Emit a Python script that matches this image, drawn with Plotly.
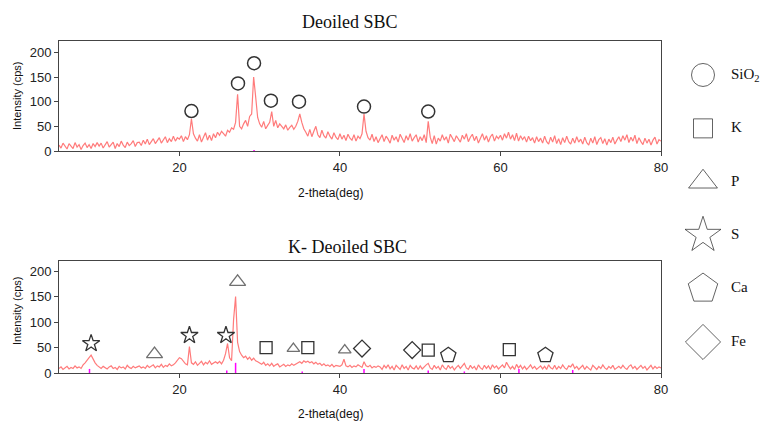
import numpy as np
import plotly.graph_objects as go

# ---------------- DATA ----------------
two_theta_start, two_theta_step = 5.0, 0.25

deoiled_counts = [
    12, 6, 16, 9, 4, 15, 10, 5, 17, 8, 13, 3, 11, 16, 7, 13, 5, 15, 9, 17,
    10, 16, 6, 14, 19, 8, 13, 18, 5, 15, 9, 20, 12, 7, 18, 11, 15, 21, 9, 17,
    18, 11, 22, 14, 24, 13, 19, 25, 15, 22, 27, 16, 23, 29, 17, 25, 19, 30, 20, 27,
    24, 31, 19, 29, 23, 33, 65, 35, 26, 20, 33, 18, 28, 37, 22, 32, 21, 35, 27, 38,
    32, 40, 35, 30, 42, 38, 47, 44, 58, 115, 50, 45, 55, 62, 50, 70, 75, 150, 110, 68,
    55, 48, 60, 45, 52, 58, 80, 50, 62, 47, 55, 50, 45, 53, 42, 48, 52, 44, 50, 60,
    75, 58, 45, 38, 30, 44, 29, 40, 50, 33, 27, 42, 31, 26, 39, 30, 24, 37, 28, 23,
    35, 24, 32, 21, 34, 26, 22, 33, 20, 30, 25, 35, 75, 40, 27, 22, 34, 19, 29, 17,
    27, 33, 19, 30, 24, 16, 32, 22, 29, 18, 34, 25, 17, 31, 22, 35, 20, 27, 33, 18,
    29, 21, 33, 17, 60, 28, 15, 31, 14, 26, 20, 33, 22, 29, 16, 34, 25, 19, 31, 23,
    18, 32, 24, 35, 19, 28, 34, 21, 30, 16, 27, 35, 22, 31, 18, 29, 34, 20, 30, 25,
    32, 22, 35, 26, 38, 24, 33, 21, 36, 20, 31, 23, 29, 18, 30, 21, 27, 16, 29, 19,
    26, 16, 30, 19, 14, 28, 18, 31, 15, 25, 13, 27, 17, 30, 19, 14, 26, 16, 29, 18,
    24, 14, 28, 17, 12, 26, 16, 29, 13, 23, 27, 15, 25, 12, 24, 17, 28, 14, 22, 29,
    19, 31, 22, 33, 17, 28, 20, 32, 15, 27, 19, 13, 26, 16, 24, 12, 22, 28, 14, 23,
    20,
]

k_deoiled_counts = [
    9, 12, 7, 10, 13, 8, 11, 9, 14, 10, 12, 9, 16, 20, 24, 30, 35, 27, 20, 15,
    12, 9, 13, 10, 8, 12, 14, 9, 11, 7, 13, 10, 12, 8, 15, 11, 9, 13, 10, 12,
    14, 10, 12, 9, 15, 11, 13, 16, 10, 14, 12, 17, 11, 15, 13, 18, 14, 16, 20, 25,
    30, 28, 22, 18, 16, 52, 20, 17, 22, 15, 19, 23, 16, 21, 18, 24, 17, 20, 22, 19,
    23, 18, 25, 38, 58, 30, 24, 105, 150, 60, 42, 35, 30, 33, 27, 31, 25, 29, 24, 22,
    20, 17, 21, 15, 18, 14, 19, 13, 16, 18, 12, 15, 17, 13, 16, 14, 18, 15, 17, 20,
    22, 19, 24, 21, 23, 20, 22, 18, 21, 17, 19, 15, 18, 14, 16, 13, 17, 12, 15, 14,
    13, 16, 27, 14, 12, 15, 11, 14, 12, 16, 13, 11, 22, 14, 12, 15, 10, 13, 11, 14,
    12, 7, 15, 10, 16, 8, 13, 6, 15, 10, 7, 16, 9, 13, 6, 15, 10, 8, 14, 7,
    14, 8, 13, 16, 19, 10, 7, 15, 9, 13, 6, 16, 10, 7, 15, 9, 13, 6, 11, 15,
    9, 15, 19, 10, 7, 15, 9, 13, 6, 16, 10, 7, 15, 9, 14, 7, 16, 10, 14, 8,
    13, 16, 10, 21, 14, 8, 13, 7, 17, 10, 15, 8, 13, 7, 11, 16, 9, 13, 7, 11,
    14, 8, 13, 7, 16, 10, 8, 15, 7, 13, 9, 16, 10, 7, 14, 12, 18, 9, 13, 7,
    11, 15, 7, 13, 9, 6, 15, 10, 7, 13, 9, 16, 10, 7, 13, 9, 15, 7, 11, 13,
    9, 15, 10, 7, 13, 16, 9, 13, 7, 11, 15, 9, 13, 6, 11, 15, 8, 13, 9, 12,
    10,
]

# reference (stick) lines
top_ref_x = [29.3]
top_ref_h = [2]
bot_ref_x = [8.8, 25.9, 27.0, 35.3, 43.0, 51.0, 55.5, 62.3, 69.0]
bot_ref_h = [8, 5, 20, 3, 8, 5, 3, 8, 6]

# phase identification markers
sio2_x = [21.5, 27.3, 29.3, 31.4, 34.9, 43.0, 51.0]
sio2_y = [81, 137, 178, 102, 100, 90, 80]

s_x = [9.0, 21.25, 25.8]
s_y = [58, 74, 74]
p_x = [16.9, 27.25, 34.2, 40.6]
p_y = [37, 179, 48, 45]
p_size = [14, 14, 11, 11]
k_x = [30.8, 36.0, 51.0, 61.1]
k_y = [50, 50, 45, 46]
fe_x = [42.75, 49.0]
fe_y = [48, 45]
ca_x = [53.5, 65.6]
ca_y = [35, 35]

legend_labels = ["SiO<sub>2</sub>", "K", "P", "S", "Ca", "Fe"]
legend_symbols = ["circle-open", "square-open", "triangle-up-open",
                  "star-open", "pentagon-open", "diamond-open"]
legend_sizes = [23, 19, 25, 27, 31, 27]

# ---------------- FIGURE ----------------
W, H = 769, 421
n = len(deoiled_counts)
two_theta = two_theta_start + two_theta_step * np.arange(n)

LINE_RED = "#ff7b7b"
MARK = "#333333"

def sticks(xs, hs):
    xx, yy = [], []
    for x, h in zip(xs, hs):
        xx += [x, x, None]
        yy += [0, h, None]
    return xx, yy

fig = go.Figure()

fig.add_trace(go.Scatter(x=two_theta, y=deoiled_counts, mode="lines",
                         line=dict(color=LINE_RED, width=1.2), xaxis="x", yaxis="y"))
sx, sy = sticks(top_ref_x, top_ref_h)
fig.add_trace(go.Scatter(x=sx, y=sy, mode="lines", line=dict(color="#ff00ff", width=1.5),
                         xaxis="x", yaxis="y"))
fig.add_trace(go.Scatter(x=sio2_x, y=sio2_y, mode="markers", xaxis="x", yaxis="y",
                         marker=dict(symbol="circle-open", size=13,
                                     line=dict(color=MARK, width=1.5), color=MARK)))

fig.add_trace(go.Scatter(x=two_theta, y=k_deoiled_counts, mode="lines",
                         line=dict(color=LINE_RED, width=1.2), xaxis="x2", yaxis="y2"))
sx, sy = sticks(bot_ref_x, bot_ref_h)
fig.add_trace(go.Scatter(x=sx, y=sy, mode="lines", line=dict(color="#ff00ff", width=1.5),
                         xaxis="x2", yaxis="y2"))

def marks(xs, ys, symbol, size):
    fig.add_trace(go.Scatter(x=xs, y=ys, mode="markers", xaxis="x2", yaxis="y2",
                             marker=dict(symbol=symbol, size=size, color=MARK,
                                         line=dict(color=MARK, width=1.3))))

marks(s_x, s_y, "star-open", 13)
marks(p_x, p_y, "triangle-up-open", p_size)
marks(k_x, k_y, "square-open", 12)
marks(fe_x, fe_y, "diamond-open", 13)
marks(ca_x, ca_y, "pentagon-open", 16)

# legend panel (drawn as its own hidden axis)
leg_idx = list(range(len(legend_labels)))
fig.add_trace(go.Scatter(x=[703] * len(leg_idx), y=leg_idx, mode="markers",
                         xaxis="x3", yaxis="y3",
                         marker=dict(symbol=legend_symbols, size=legend_sizes, color="#222",
                                     line=dict(color="#222", width=1))))
fig.add_trace(go.Scatter(x=[731] * len(leg_idx), y=leg_idx, mode="text",
                         text=legend_labels, textposition="middle right",
                         textfont=dict(family="Liberation Serif", size=15, color="#111"),
                         xaxis="x3", yaxis="y3"))

x_dom = [59 / W, 661 / W]
axis_common = dict(showgrid=False, zeroline=False, showline=True, mirror=True,
                   linecolor="#444", linewidth=1, ticks="outside", ticklen=4,
                   tickcolor="#444", automargin=False,
                   tickfont=dict(family="Liberation Sans", size=13, color="#222"))

fig.update_layout(
    width=W, height=H, margin=dict(l=0, r=0, t=0, b=0),
    plot_bgcolor="white", paper_bgcolor="white", showlegend=False,
    xaxis=dict(domain=x_dom, range=[5, 80], tick0=0, dtick=20, anchor="y", **axis_common),
    yaxis=dict(domain=[1 - 151 / H, 1 - 41 / H], range=[0, 223], dtick=50, anchor="x",
               **axis_common),
    xaxis2=dict(domain=x_dom, range=[5, 80], tick0=0, dtick=20, anchor="y2", **axis_common),
    yaxis2=dict(domain=[1 - 373 / H, 1 - 261 / H], range=[0, 220], dtick=50, anchor="x2",
                **axis_common),
    xaxis3=dict(domain=[661 / W, 1], range=[661, 769], visible=False, anchor="y3"),
    yaxis3=dict(domain=[0, 1], range=[6.48, -1.404], visible=False, anchor="x3"),
)

ann = []
def text(x, y, t, size, family, angle=0):
    ann.append(dict(x=x / W, y=1 - y / H, xref="paper", yref="paper", text=t,
                    showarrow=False, textangle=angle, xanchor="center", yanchor="middle",
                    font=dict(family=family, size=size, color="#111")))

text(350, 22, "Deoiled SBC", 18, "Liberation Serif")
text(347, 247, "K- Deoiled SBC", 18, "Liberation Serif")
text(330, 193, "2-theta(deg)", 12, "Liberation Sans")
text(330, 414, "2-theta(deg)", 12, "Liberation Sans")
text(17, 96, "Intensity (cps)", 11, "Liberation Sans", -90)
text(17, 311, "Intensity (cps)", 11, "Liberation Sans", -90)
fig.update_layout(annotations=ann)

fig.write_html("out.html", config={"displayModeBar": False},
               post_script="document.body.style.margin='0';")
